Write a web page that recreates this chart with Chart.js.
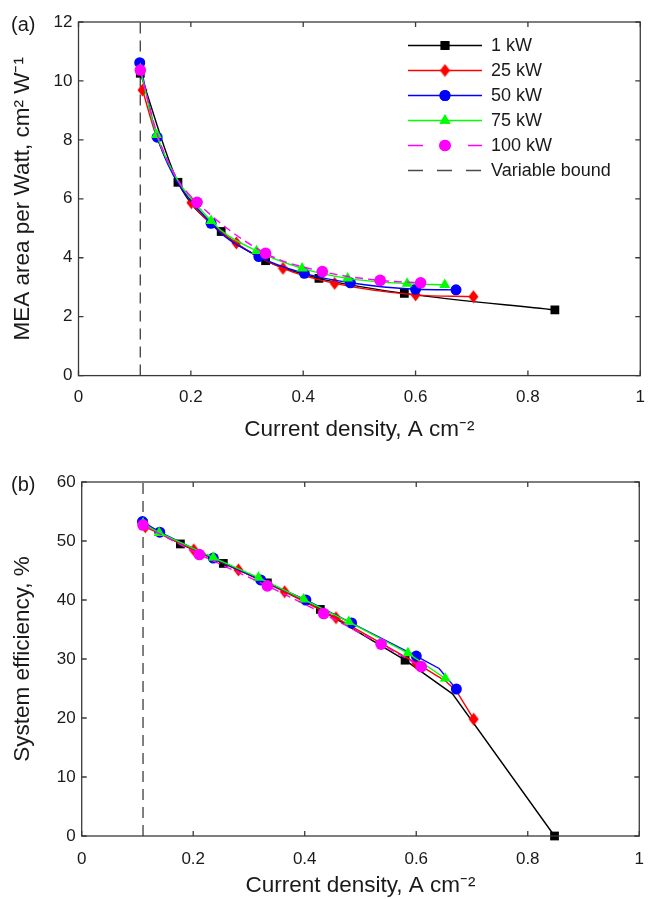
<!DOCTYPE html>
<html><head><meta charset="utf-8">
<script src="https://cdn.jsdelivr.net/npm/chart.js@4.4.0/dist/chart.umd.min.js"></script>
<style>
html,body{margin:0;padding:0;background:#fff;}
#wrap{position:relative;width:657px;height:899px;background:#fff;}
canvas{position:absolute;left:0;}
#ca{top:0;} #cb{top:450px;}
</style></head><body>
<div id="wrap">
<canvas id="ca" width="657" height="450"></canvas>
<canvas id="cb" width="657" height="449"></canvas>
</div>
<script>
// ---------------- data ----------------
const seriesNames = ['1 kW', '25 kW', '50 kW', '75 kW', '100 kW'];
const boundLabel = 'Variable bound';
const boundX = 0.11;
const xTicks = [0, 0.2, 0.4, 0.6, 0.8, 1];
const meaTicks = [0, 2, 4, 6, 8, 10, 12];
const effTicks = [0, 10, 20, 30, 40, 50, 60];

const x1kW   = [0.110, 0.177, 0.254, 0.333, 0.428, 0.580, 0.848];
const mea1kW = [10.26, 6.56, 4.89, 3.90, 3.30, 2.79, 2.23];
const eff1kW = [53.0, 49.5, 46.2, 42.9, 38.4, 29.8, 0.0];

const x25kW   = [0.114, 0.201, 0.281, 0.364, 0.456, 0.600, 0.703];
const mea25kW = [9.69, 5.87, 4.50, 3.64, 3.13, 2.74, 2.68];
const eff25kW = [52.4, 48.5, 45.1, 41.4, 37.0, 29.3, 19.8];

const x50kW   = [0.109, 0.140, 0.236, 0.321, 0.402, 0.484, 0.600, 0.672];
const mea50kW = [10.62, 8.09, 5.17, 4.04, 3.47, 3.15, 2.93, 2.91];
const eff50kW = [53.3, 51.5, 47.1, 43.4, 40.0, 36.1, 30.5, 24.9];

const x75kW   = [0.110, 0.139, 0.236, 0.317, 0.398, 0.479, 0.585, 0.652];
const mea75kW = [10.40, 8.17, 5.25, 4.23, 3.64, 3.30, 3.12, 3.08];
const eff75kW = [53.0, 51.4, 47.2, 43.8, 40.1, 36.3, 31.0, 26.7];

const x100kW   = [0.110, 0.211, 0.333, 0.434, 0.537, 0.609];
const mea100kW = [10.37, 5.88, 4.15, 3.53, 3.23, 3.15];
const eff100kW = [52.7, 47.7, 42.4, 37.7, 32.5, 28.7];

// unmarked bend vertices of the curves
const meaBendX25kW  = [0.140];        const meaBendY25kW  = [8.05];
const meaBendX100kW = [0.140, 0.175]; const meaBendY100kW = [8.20, 6.70];
const effBendX1kW  = [0.665];        const effBendY1kW  = [24.1];
const effBendX25kW = [0.652, 0.672]; const effBendY25kW = [26.3, 24.6];
const effBendX50kW = [0.641];        const effBendY50kW = [28.4];

// ---------------- styles ----------------
function diamondCanvas(color) {
  const c = document.createElement('canvas');
  c.width = 11; c.height = 14;
  const g = c.getContext('2d');
  g.fillStyle = color;
  g.beginPath();
  g.moveTo(5.5, 0.5); g.lineTo(10.5, 7); g.lineTo(5.5, 13.5); g.lineTo(0.5, 7);
  g.closePath(); g.fill();
  return c;
}
const styles = [
  {color: '#000000', point: 'rect', r: 6.2},
  {color: '#ff0000', point: diamondCanvas('#ff0000'), r: 6.5},
  {color: '#0000ff', point: 'circle', r: 5.5},
  {color: '#00ff00', point: 'triangle', r: 6.3},
  {color: '#ff00ff', point: 'circle', r: 5.8, dash: [8, 5]}
];
const FONT = '"Liberation Sans", Arial, Helvetica, sans-serif';
const TXT = '#1a1a1a';
const FRAME = '#3a3a3a';
const LW = 1.4;

function pts(xs, ys, bx, by) {
  const p = xs.map((x, i) => ({x: x, y: ys[i], m: true}));
  (bx || []).forEach((x, i) => p.push({x: x, y: by[i], m: false}));
  p.sort((a, b) => a.x - b.x);
  return p;
}

function makeDatasets(series, smooth, ymax) {
  const ds = series.map((p, i) => {
    const st = styles[i];
    return {
      label: seriesNames[i], data: p, order: 5 - i,
      borderColor: st.color, backgroundColor: st.color, borderWidth: LW,
      borderDash: st.dash || [], pointStyle: st.point,
      pointRadius: c => (c.raw && c.raw.m) ? st.r : 0,
      pointBorderWidth: 0, pointHoverRadius: 0,
      cubicInterpolationMode: smooth ? 'monotone' : 'default', tension: 0,
      clip: false
    };
  });
  ds.push({
    label: boundLabel, data: [{x: boundX, y: 0}, {x: boundX, y: ymax}], order: 10,
    borderColor: '#4a4a4a', borderWidth: 1.4, borderDash: [11, 7], pointRadius: 0
  });
  return ds;
}

function framePlugin(panel, withLegend) {
  return {
    id: 'frame' + panel,
    afterDraw(chart) {
      const {ctx, chartArea: a, scales: {x, y}} = chart;
      ctx.save();
      ctx.strokeStyle = FRAME; ctx.lineWidth = 1.3;
      ctx.strokeRect(a.left, a.top, a.right - a.left, a.bottom - a.top);
      ctx.beginPath();
      x.ticks.forEach(t => {
        const px = x.getPixelForValue(t.value);
        ctx.moveTo(px, a.bottom); ctx.lineTo(px, a.bottom - 5);
        ctx.moveTo(px, a.top); ctx.lineTo(px, a.top + 5);
      });
      y.ticks.forEach(t => {
        const py = y.getPixelForValue(t.value);
        ctx.moveTo(a.left, py); ctx.lineTo(a.left + 5, py);
        ctx.moveTo(a.right, py); ctx.lineTo(a.right - 5, py);
      });
      ctx.stroke();
      ctx.fillStyle = TXT;
      ctx.font = '20px ' + FONT;
      ctx.textBaseline = 'middle'; ctx.textAlign = 'left';
      ctx.fillText(panel, 11, a.top + 3);
      if (withLegend) {
        const x0 = 408, x1 = 482, xm = 445, xt = 491;
        let yy = 45.5;
        ctx.font = '18px ' + FONT;
        chart.data.datasets.forEach((d, i) => {
          ctx.beginPath();
          ctx.strokeStyle = d.borderColor; ctx.lineWidth = LW;
          ctx.setLineDash(i < 5 ? [] : [15, 14]);
          if (i === 4) { ctx.moveTo(x0, yy); ctx.lineTo(x0 + 15, yy); ctx.moveTo(x1 - 14, yy); ctx.lineTo(x1, yy); }
          else { ctx.moveTo(x0, yy); ctx.lineTo(x1, yy); }
          ctx.stroke();
          ctx.setLineDash([]);
          if (i < 5) {
            ctx.fillStyle = d.borderColor;
            Chart.helpers.drawPoint(ctx, {pointStyle: styles[i].point, radius: styles[i].r, rotation: 0, borderWidth: 0}, xm, yy);
            ctx.fill();
          }
          ctx.fillStyle = TXT;
          ctx.fillText(d.label, xt, yy + 1);
          yy += 25;
        });
      }
      ctx.restore();
    }
  };
}

function makeChart(id, datasets, yTicks, yTitle, lay) {
  const yMax = yTicks[yTicks.length - 1];
  return new Chart(document.getElementById(id), {
    type: 'line',
    data: {datasets: datasets},
    options: {
      responsive: false, animation: false, devicePixelRatio: 1,
      layout: {padding: {left: 0, top: lay.top, right: lay.right, bottom: 0}},
      plugins: {legend: {display: false}, tooltip: {enabled: false}},
      scales: {
        x: {
          type: 'linear', min: 0, max: 1,
          afterBuildTicks: s => { s.ticks = xTicks.map(v => ({value: v})); },
          afterFit: s => { s.height = lay.xh; },
          grid: {display: false, drawTicks: false},
          border: {display: false},
          ticks: {padding: lay.xpad, color: TXT, font: {family: FONT, size: 17},
                  maxRotation: 0, callback: v => String(Number(v.toFixed(2)))},
          title: {display: true, text: 'Current density, A cm⁻²', color: TXT,
                  font: {family: FONT, size: 22.5}, padding: {top: 0, bottom: lay.tpad}}
        },
        y: {
          type: 'linear', min: 0, max: yMax,
          afterBuildTicks: s => { s.ticks = yTicks.map(v => ({value: v})); },
          afterFit: s => { s.width = lay.yw; },
          grid: {display: false, drawTicks: false},
          border: {display: false},
          ticks: {padding: 6, color: TXT, font: {family: FONT, size: 17}},
          title: {display: true, text: yTitle, color: TXT,
                  font: {family: FONT, size: 22.5}, padding: {top: 9, bottom: 0}}
        }
      }
    },
    plugins: [framePlugin(lay.panel, lay.legend)]
  });
}

const meaSeries = [
  pts(x1kW, mea1kW), pts(x25kW, mea25kW, meaBendX25kW, meaBendY25kW), pts(x50kW, mea50kW),
  pts(x75kW, mea75kW), pts(x100kW, mea100kW, meaBendX100kW, meaBendY100kW)
];
const effSeries = [
  pts(x1kW, eff1kW, effBendX1kW, effBendY1kW),
  pts(x25kW, eff25kW, effBendX25kW, effBendY25kW),
  pts(x50kW, eff50kW, effBendX50kW, effBendY50kW),
  pts(x75kW, eff75kW), pts(x100kW, eff100kW)
];

makeChart('ca', makeDatasets(meaSeries, true, 12), meaTicks, 'MEA area per Watt, cm² W⁻¹',
  {top: 22, right: 9, xh: 74.4, yw: 78.5, xpad: 12, tpad: 6.5, panel: '(a)', legend: true});
makeChart('cb', makeDatasets(effSeries, false, 60), effTicks, 'System efficiency, %',
  {top: 32, right: 4, xh: 63, yw: 81.7, xpad: 13, tpad: 0, panel: '(b)', legend: false});
</script>
</body></html>
